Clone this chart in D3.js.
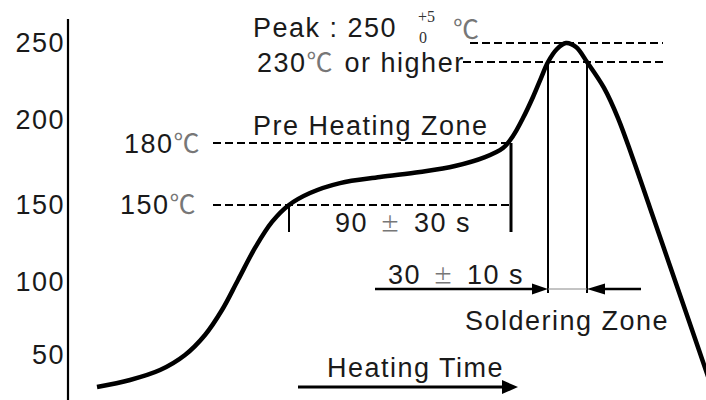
<!DOCTYPE html>
<html>
<head>
<meta charset="utf-8">
<script src="https://cdn.jsdelivr.net/npm/d3@7"></script>
<style>
body{margin:0;background:#fff;}
svg{display:block;font-family:"Liberation Sans",Arial,sans-serif;}
.lbl{font-size:27px;letter-spacing:1.5px;fill:#1a1a1a;}
.deg{font-family:"Noto Sans CJK SC";fill:#777;letter-spacing:0;font-size:26px;}
.pm{font-family:"Noto Sans CJK SC";fill:#777;font-size:20px;letter-spacing:0;}
.small{font-family:"Liberation Serif",serif;font-size:16px;fill:#333;}
</style>
</head>
<body>
<svg></svg>
<script>
//tick labels on the temperature axis
var tempTicks = [50,100,150,200,250];
//the drawing is a sketch, not to scale, so each level gets its own spot
var tempLevels = [50,100,150,180,200,230,250];

//reflow profile, time in s (sketch units), temp in C
var profileTime = [14.5,31,46,58.5,68.5,77,85,93.5,102,110.5,121,136,156,176,193.5,208.5,217.5,222.5,227.5,232.5,236.5,240,244.5,249,254,259.5,268,275,282,291,301,311,322];
var profileTemp = [28.1,32.9,39.7,50,63.7,80.8,101.3,122.1,139,150,155.8,160.6,163.5,166,168.9,173.2,177.6,186.1,201,211.9,221.7,230,243.7,250,245.8,230,216.6,201,173.7,148.1,110.4,71.2,27.4];

//dashed reference levels and where they run (s)
var refTemps = [250,230,180,150];
var refFrom = [201,197.5,72.5,72.5];
var refTo = [297.5,297.5,219.5,221.5];

//zone limits (s)
var preheatZone = [110.5,221.5];
var solderZone = [240,259.5];
var solderArrowFrom = [153.5,286.5];
var heatArrow = [115,225];

var makeTranslateString = function(x,y)
{
    return "translate("+x+","+y+")";
}

var drawAxis = function(svg,yScale,axisX)
{
    var axis = d3.axisLeft(yScale)
        .tickValues(tempTicks)
        .tickSize(0)
        .tickPadding(3);

    var g = svg.append("g")
        .attr("transform",makeTranslateString(axisX,0))
        .call(axis);
    g.select(".domain").remove();
    g.selectAll("text")
        .attr("class","lbl")
        .attr("font-family",null)
        .attr("font-size",null)
        .attr("fill",null);

    svg.append("line")
        .attr("x1",axisX).attr("x2",axisX)
        .attr("y1",19).attr("y2",400)
        .attr("stroke","#000")
        .attr("stroke-width",2.2);
}

var drawRefLines = function(svg,xScale,yScale)
{
    svg.selectAll(".ref")
        .data(refTemps)
        .enter()
        .append("line")
        .attr("class","ref")
        .attr("x1",function(d,i){return xScale(refFrom[i]);})
        .attr("x2",function(d,i){return xScale(refTo[i]);})
        .attr("y1",function(d){return yScale(d);})
        .attr("y2",function(d){return yScale(d);})
        .attr("stroke","#000")
        .attr("stroke-width",2)
        .attr("stroke-dasharray","8,4");
}

var drawCurve = function(svg,xScale,yScale)
{
    var pts = profileTime.map(function(t,i){return [t,profileTemp[i]];});
    var line = d3.line()
        .x(function(d){return xScale(d[0]);})
        .y(function(d){return yScale(d[1]);})
        .curve(d3.curveCatmullRom.alpha(0.5));

    svg.append("path")
        .datum(pts)
        .attr("d",line)
        .attr("fill","none")
        .attr("stroke","#000")
        .attr("stroke-width",4.5)
        .attr("stroke-linecap","butt");
}

var vLine = function(svg,x,y1,y2,w)
{
    svg.append("line")
        .attr("x1",x).attr("x2",x)
        .attr("y1",y1).attr("y2",y2)
        .attr("stroke","#000")
        .attr("stroke-width",w);
}

//horizontal arrow, tip at x2
var drawArrow = function(svg,x1,x2,y,len,half,w)
{
    var dir = x2>x1 ? 1 : -1;
    svg.append("line")
        .attr("x1",x1).attr("x2",x2-dir*len*0.6)
        .attr("y1",y).attr("y2",y)
        .attr("stroke","#000")
        .attr("stroke-width",w);
    svg.append("path")
        .attr("d","M"+x2+","+y+"L"+(x2-dir*len)+","+(y-half)+"L"+(x2-dir*len)+","+(y+half)+"Z")
        .attr("fill","#000");
}

var drawMarks = function(svg,xScale,yScale)
{
    //pre heating zone limits
    vLine(svg,xScale(preheatZone[0]),yScale(150),232,2);
    vLine(svg,xScale(preheatZone[1]),yScale(180),232,3);
    //soldering zone limits
    vLine(svg,xScale(solderZone[0]),yScale(230),293,2);
    vLine(svg,xScale(solderZone[1]),yScale(230),293,2);

    svg.append("line")
        .attr("x1",xScale(solderZone[0])).attr("x2",xScale(solderZone[1]))
        .attr("y1",289).attr("y2",289)
        .attr("stroke","#888")
        .attr("stroke-width",1);

    drawArrow(svg,xScale(solderArrowFrom[0]),xScale(solderZone[0]),289,16,5.5,2.5);
    drawArrow(svg,xScale(solderArrowFrom[1]),xScale(solderZone[1]),289,18,5.5,2.5);
    drawArrow(svg,xScale(heatArrow[0]),xScale(heatArrow[1]),387,16,7,3);
}

var drawLabels = function(svg)
{
    var t = svg.append("text").attr("class","lbl").attr("x",253).attr("y",37);
    t.text("Peak : 250");
    svg.append("text").attr("class","small").attr("x",418).attr("y",22).text("+5");
    svg.append("text").attr("class","small").attr("x",419).attr("y",43).text("0");
    svg.append("text").attr("class","deg").attr("x",453).attr("y",39).text("℃");

    t = svg.append("text").attr("class","lbl").attr("x",257).attr("y",72);
    t.append("tspan").text("230");
    t.append("tspan").attr("class","deg").text("℃");
    t.append("tspan").attr("dx",12).text("or higher");

    svg.append("text").attr("class","lbl").attr("x",253).attr("y",135).text("Pre Heating Zone");

    t = svg.append("text").attr("class","lbl").attr("x",124).attr("y",153);
    t.append("tspan").text("180");
    t.append("tspan").attr("class","deg").text("℃");

    t = svg.append("text").attr("class","lbl").attr("x",120).attr("y",214);
    t.append("tspan").text("150");
    t.append("tspan").attr("class","deg").text("℃");

    t = svg.append("text").attr("class","lbl").attr("x",335).attr("y",232);
    t.append("tspan").text("90");
    t.append("tspan").attr("class","pm").attr("dx",12).text("±");
    t.append("tspan").attr("dx",14).text("30 s");

    t = svg.append("text").attr("class","lbl").attr("x",388).attr("y",284);
    t.append("tspan").text("30");
    t.append("tspan").attr("class","pm").attr("dx",12).text("±");
    t.append("tspan").attr("dx",14).text("10 s");

    svg.append("text").attr("class","lbl").attr("x",465).attr("y",330).text("Soldering Zone");
    svg.append("text").attr("class","lbl").attr("x",327).attr("y",377).text("Heating Time");
}

var initGraph = function()
{
    var screen = {width:706,height:400};
    var svg = d3.select("svg")
        .attr("width",screen.width)
        .attr("height",screen.height);

    //time axis is a sketch, 2px per unit from the temperature axis
    var xScale = d3.scaleLinear()
        .domain([0,320])
        .range([68,708]);

    var yScale = d3.scaleLinear()
        .domain(tempLevels)
        .range([355,282,205,143,120,62,43]);

    drawAxis(svg,yScale,68);
    drawRefLines(svg,xScale,yScale);
    drawMarks(svg,xScale,yScale);
    drawCurve(svg,xScale,yScale);
    drawLabels(svg);
}

initGraph();
</script>
</body>
</html>
